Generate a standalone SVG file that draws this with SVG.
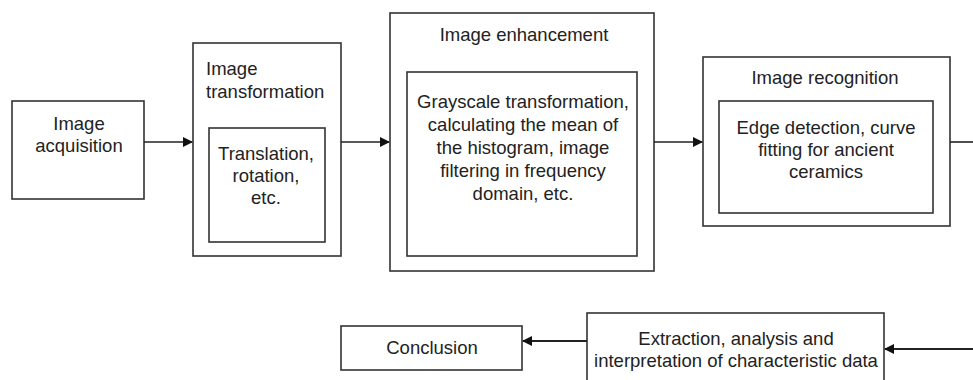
<svg xmlns="http://www.w3.org/2000/svg" width="973" height="380" viewBox="0 0 973 380">
<defs>
<style>
.box{fill:#fff;stroke:#333;stroke-width:1.6}
.t{font-family:"Liberation Sans",Arial,sans-serif;font-size:18.5px;fill:#222;text-anchor:middle}
.l{text-anchor:start}
.c{fill:none;stroke:#222;stroke-width:1.6}
.c2{fill:none;stroke:#222;stroke-width:2.2}
</style>
<marker id="ah" markerWidth="10" markerHeight="10" refX="9" refY="5" orient="auto" markerUnits="userSpaceOnUse">
<path d="M0,0 L10,5 L0,10 Z" fill="#111"/>
</marker>
</defs>
<rect width="973" height="380" fill="#fff"/>
<g id="acquisition">
<rect class="box" x="12" y="101" width="132" height="98"/>
<text class="t" x="79" y="130">Image</text>
<text class="t" x="79" y="152">acquisition</text>
</g>
<g id="transformation">
<rect class="box" x="193" y="43" width="148" height="213"/>
<text class="t l" x="206" y="75">Image</text>
<text class="t l" x="206" y="98">transformation</text>
<rect class="box" x="209" y="128" width="116" height="114"/>
<text class="t" x="266" y="160">Translation,</text>
<text class="t" x="266" y="182">rotation,</text>
<text class="t" x="266" y="204">etc.</text>
</g>
<g id="enhancement">
<rect class="box" x="390" y="13" width="264" height="258"/>
<text class="t" x="524" y="41">Image enhancement</text>
<rect class="box" x="407" y="72" width="230" height="184"/>
<text class="t" x="523" y="108">Grayscale transformation,</text>
<text class="t" x="523" y="131">calculating the mean of</text>
<text class="t" x="523" y="154">the histogram, image</text>
<text class="t" x="523" y="177">filtering in frequency</text>
<text class="t" x="523" y="200">domain, etc.</text>
</g>
<g id="recognition">
<rect class="box" x="703" y="57" width="247" height="169"/>
<text class="t" x="825" y="84">Image recognition</text>
<rect class="box" x="719" y="101" width="214" height="112"/>
<text class="t" x="826" y="134">Edge detection, curve</text>
<text class="t" x="826" y="156">fitting for ancient</text>
<text class="t" x="826" y="178">ceramics</text>
</g>
<g id="extraction">
<rect class="box" x="587" y="313" width="297" height="80"/>
<text class="t" x="736" y="345">Extraction, analysis and</text>
<text class="t" x="736" y="367">interpretation of characteristic data</text>
</g>
<g id="conclusion">
<rect class="box" x="341" y="326" width="181" height="44"/>
<text class="t" x="432" y="354">Conclusion</text>
</g>
<g id="connectors">
<line class="c" x1="144" y1="142" x2="192" y2="142" marker-end="url(#ah)"/>
<line class="c" x1="341" y1="142" x2="389" y2="142" marker-end="url(#ah)"/>
<line class="c" x1="654" y1="142" x2="702" y2="142" marker-end="url(#ah)"/>
<line class="c" x1="950" y1="142" x2="973" y2="142"/>
<line class="c2" x1="973" y1="349" x2="885" y2="349" marker-end="url(#ah)"/>
<line class="c2" x1="587" y1="341" x2="523" y2="341" marker-end="url(#ah)"/>
</g>
</svg>
